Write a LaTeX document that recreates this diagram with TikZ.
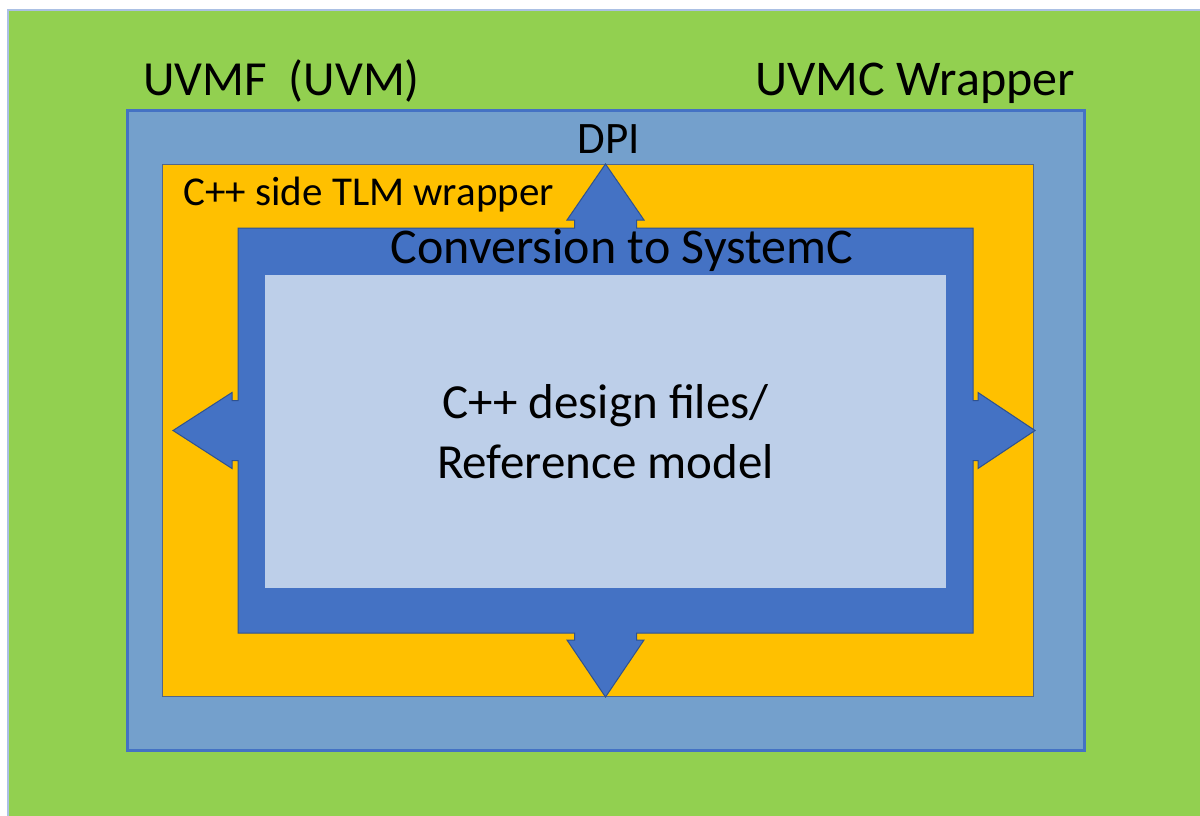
\documentclass[tikz,border=0pt]{standalone}
\usepackage{fontspec}
\setmainfont{Carlito}
\usetikzlibrary{calc,positioning}
\definecolor{envgreen}{RGB}{146,208,80}
\definecolor{uvmcblue}{RGB}{116,160,204}
\definecolor{edgeblue}{RGB}{68,114,196}
\definecolor{tlmyellow}{RGB}{255,192,0}
\definecolor{convblue}{RGB}{68,114,196}
\definecolor{convedge}{RGB}{47,82,143}
\definecolor{modelblue}{RGB}{189,207,233}

\begin{document}
\begin{tikzpicture}[x=1pt, y=-1pt,
  bx/.style={rectangle, inner sep=0pt, outer sep=0pt},
  envbox/.style={bx, fill=envgreen, draw=edgeblue!45, line width=2pt},
  uvmcbox/.style={bx, fill=uvmcblue, draw=edgeblue, line width=3pt},
  tlmbox/.style={bx, fill=tlmyellow, draw=convedge!55!gray, line width=1pt},
  convbox/.style={bx},
  convpath/.style={fill=convblue, draw=convedge, line width=1pt, line join=miter},
  mdlbox/.style={bx, fill=modelblue},
  lbl/.style={inner sep=0pt, text=black},
  bigtxt/.style={font=\fontsize{49}{60}\selectfont}
]
\useasboundingbox[fill=white] (0,0) rectangle (1200,815);

% nested boxes, outside in (the green one runs off the page)
\node[envbox, minimum width=1200, minimum height=825] (env) at (608,422.5) {};
\node[uvmcbox, minimum width=957, minimum height=640] (uvmc) at (605.5,430) {};
\node[tlmbox, minimum width=871, minimum height=532] (tlm) at (597.5,430) {};
\node[convbox, minimum width=735, minimum height=405] (conv) at (605.5,430.5) {};

% conversion frame with its four block arrows
\draw[convpath] (conv.north west)
  -- ($(conv.north)+(-31,0)$) -- ++(0,-8) -- ++(-7.5,0) -- ++(38.5,-56)
  -- ++(38.5,56) -- ++(-7.5,0) -- ++(0,8)
  -- (conv.north east)
  -- ($(conv.east)+(0,-30)$) -- ++(5,0) -- ++(0,-8) -- ++(57,38)
  -- ++(-57,38) -- ++(0,-8) -- ++(-5,0)
  -- (conv.south east)
  -- ($(conv.south)+(31,0)$) -- ++(0,7) -- ++(7.5,0) -- ++(-38.5,57)
  -- ++(-38.5,-57) -- ++(7.5,0) -- ++(0,-7)
  -- (conv.south west)
  -- ($(conv.west)+(0,30)$) -- ++(-6,0) -- ++(0,8) -- ++(-59,-38)
  -- ++(59,-38) -- ++(0,8) -- ++(6,0)
  -- cycle;

\node[mdlbox, minimum width=681, minimum height=313] (mdl) at (605.5,431.5) {};

% labels
\node[lbl, bigtxt, anchor=base west] (uvmf) at (143,95) {UVMF\ \ (UVM)};
\node[lbl, font=\fontsize{50}{60}\selectfont, anchor=base east] (wrap) at (1075,95) {UVMC Wrapper};
\node[lbl, font=\fontsize{45}{54}\selectfont, anchor=base] (dpi) at (609,153) {DPI};
\node[lbl, font=\fontsize{41}{50}\selectfont, anchor=base west] (side) at (183,205) {C++ side TLM wrapper};
\node[lbl, font=\fontsize{50}{60}\selectfont, anchor=base] (sysc) at (622,263) {Conversion to SystemC};
\node[lbl, bigtxt, align=center] (files) at (mdl.center) {C++ design files/\\Reference model};
\end{tikzpicture}
\end{document}
